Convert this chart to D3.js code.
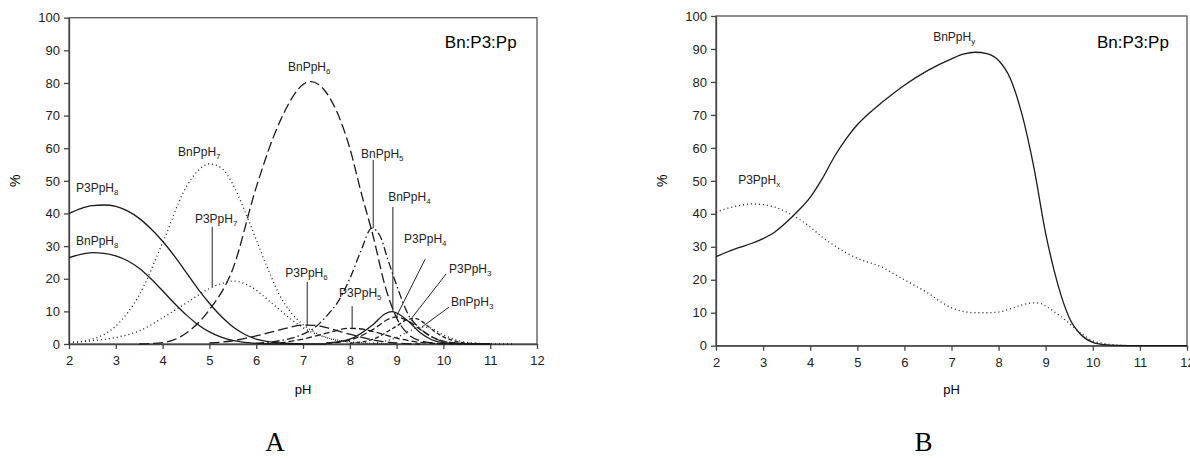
<!DOCTYPE html>
<html>
<head>
<meta charset="utf-8">
<script src="https://cdn.jsdelivr.net/npm/d3@7"></script>
<style>
  body { margin: 0; background: #fff; }
  svg { font-family: "Liberation Sans", Arial, sans-serif; }
  .axis text { font-size: 13px; fill: #222; }
  .axis path, .axis line { stroke: #444; stroke-width: 1.3; }
  .species { fill: none; stroke: #1a1a1a; stroke-width: 1.3; }
  .lbl { font-size: 12px; fill: #222; }
  .leader { stroke: #222; stroke-width: 1; }
</style>
</head>
<body>
<div id="chart"></div>
<script>
// ---- data: [pH, %] ----
const xTicks = [2, 3, 4, 5, 6, 7, 8, 9, 10, 11, 12];
const yTicks = [0, 10, 20, 30, 40, 50, 60, 70, 80, 90, 100];

const p3pph8 = [[2,40],[2.25,41.5],[2.5,42.4],[2.75,42.6],[3,42.2],[3.25,40.8],[3.5,38.5],[3.75,35.3],[4,31.5],[4.25,27],[4.5,22],[4.75,17],[5,12.5],[5.25,8.5],[5.5,5.3],[5.75,3],[6,1.5],[6.25,0.7],[6.5,0.3],[7,0.05],[7.5,0]];
const bnpph8 = [[2,26.5],[2.25,27.5],[2.5,28],[2.75,27.8],[3,27],[3.25,25.5],[3.5,23.2],[3.75,20],[4,16.3],[4.25,12.5],[4.5,9],[4.75,6],[5,3.7],[5.25,2.1],[5.5,1.1],[5.75,0.5],[6,0.2],[6.5,0.05],[7,0]];
const bnpph7 = [[2,0.4],[2.5,1.5],[3,5.5],[3.5,15],[4,31],[4.5,48],[4.75,53],[5,55.2],[5.25,54],[5.5,49],[5.75,41],[6,32],[6.25,23],[6.5,15],[6.75,9.5],[7,6],[7.5,2],[8,0.5],[8.5,0.1],[9,0]];
const p3pph7 = [[2,0.5],[2.5,1],[3,2],[3.5,4],[4,8],[4.5,12.5],[5,17],[5.25,18.5],[5.5,19.3],[5.75,18.5],[6,16.5],[6.25,13.5],[6.5,10.5],[6.75,7.5],[7,5],[7.5,2],[8,0.7],[8.5,0.2],[9,0]];
const bnpph6 = [[3.5,0],[4,0.4],[4.5,3.3],[5,10.5],[5.5,23],[6,48],[6.5,68],[7,79.5],[7.15,80.5],[7.5,77],[8,60],[8.25,46],[8.5,33],[8.75,18],[9,8],[9.25,3],[9.5,1],[10,0.1],[10.5,0]];
const bnpph5 = [[6,0.2],[6.5,1],[7,3],[7.25,5],[7.5,8.5],[7.75,13],[8,20],[8.25,29],[8.47,35.5],[8.65,33],[8.8,26.5],[9,18],[9.25,9],[9.5,4.8],[9.75,2.2],[10,0.8],[10.5,0.1],[11,0]];
const p3pph6 = [[5,0.3],[5.5,1],[6,2.5],[6.5,4.3],[7,5.8],[7.25,5.7],[7.5,5],[8,3],[8.5,1.2],[9,0.3],[9.5,0]];
const p3pph5 = [[6.5,0.3],[7,1.5],[7.5,3.3],[8,4.8],[8.25,4.6],[8.5,3.8],[9,1.8],[9.5,0.5],[10,0.1],[10.5,0]];
const bnpph4 = [[7.5,0.3],[8,1.5],[8.5,6],[8.75,9.2],[8.9,9.9],[9,9.5],[9.25,7],[9.5,3.5],[9.75,1.3],[10,0.4],[10.5,0.05],[11,0]];
const p3pph4 = [[7.5,0.2],[8,1.2],[8.5,4.5],[8.85,7.8],[9,8.3],[9.25,7],[9.5,4.5],[9.75,2.2],[10,0.9],[10.5,0.1],[11,0]];
const p3pph3 = [[8,0.2],[8.5,1.5],[9,5.5],[9.25,7.6],[9.4,7.8],[9.6,6.3],[9.75,4.5],[10,2.2],[10.25,0.9],[10.5,0.3],[11,0]];
const bnpph3 = [[8.5,0.3],[9,2],[9.25,3.8],[9.5,5.2],[9.7,5],[10,2.8],[10.25,1.3],[10.5,0.5],[11,0.05],[11.5,0]];

const bnpphy = [[2,27],[2.25,28.5],[2.5,29.8],[2.75,31],[3,32.5],[3.25,34.5],[3.5,37.5],[3.75,41],[4,45],[4.25,50.5],[4.5,57],[4.75,62.5],[5,67],[5.25,70.5],[5.5,73.5],[6,79],[6.5,83.5],[7,87],[7.25,88.4],[7.5,89],[7.75,88.6],[8,86.5],[8.25,81],[8.5,70],[8.75,54],[9,34],[9.25,19],[9.5,8.5],[9.75,3.3],[10,1],[10.25,0.3],[10.5,0.1],[11,0],[12,0]];
const p3pphx = [[2,40.5],[2.25,41.7],[2.5,42.5],[2.75,43],[3,42.8],[3.25,42],[3.5,40.5],[3.75,38.5],[4,36],[4.25,33],[4.5,30.5],[4.75,28.3],[5,26.5],[5.25,25.2],[5.5,24],[5.75,22],[6,20],[6.25,18],[6.5,16],[6.75,13.5],[7,11.5],[7.25,10.4],[7.5,10],[7.75,10],[8,10.2],[8.25,11.2],[8.5,12.4],[8.75,13],[8.9,12.8],[9,12],[9.25,9.6],[9.5,6.8],[9.75,3.8],[10,1.5],[10.25,0.6],[10.5,0.2],[11,0],[12,0]];

// label text, subscript, anchor [pH, %], optional leader [[pH,%],[pH,%]]
const labelsA = [
  {t: "P3PpH", s: "8", at: [2.15, 46.6]},
  {t: "BnPpH", s: "8", at: [2.15, 30.3]},
  {t: "BnPpH", s: "7", at: [4.33, 57.6]},
  {t: "P3PpH", s: "7", at: [4.69, 37.1], lead: [[5.06, 35.9], [5.06, 17.5]]},
  {t: "BnPpH", s: "6", at: [6.68, 83.7]},
  {t: "BnPpH", s: "5", at: [8.24, 57], lead: [[8.5, 56.4], [8.5, 35.5]]},
  {t: "BnPpH", s: "4", at: [8.82, 43.8], lead: [[8.92, 42], [8.92, 9.8]]},
  {t: "P3PpH", s: "4", at: [9.16, 31], lead: [[9.61, 26], [8.99, 8.3]]},
  {t: "P3PpH", s: "3", at: [10.12, 21.8], lead: [[10.06, 21.5], [9.31, 7.7]]},
  {t: "BnPpH", s: "3", at: [10.16, 11.6], lead: [[10.12, 11.3], [9.54, 5.2]]},
  {t: "P3PpH", s: "6", at: [6.62, 20.5], lead: [[7.09, 19], [7.09, 5.5]]},
  {t: "P3PpH", s: "5", at: [7.77, 14.4], lead: [[8.05, 11.6], [8.05, 4.9]]}
];
const labelsB = [
  {t: "P3PpH", s: "x", at: [2.47, 49]},
  {t: "BnPpH", s: "y", at: [6.61, 92.4]}
];

const SOLID = null, DOT = "1,3", LONG = "10,4", DASH = "6,3", DASHDOT = "8,3,1.5,3", SHORT = "4,2.5";

class SpeciationPlot {
  constructor(_config, _series, _labels) {
    this.config = {
      svg: _config.svg,
      left: _config.left,
      right: _config.right,
      top: _config.top,
      bottom: _config.bottom,
      title: _config.title,
      titleAt: _config.titleAt,
      panel: _config.panel
    };
    this.series = _series;
    this.labels = _labels;
    this.initVis();
  }

  initVis() {
    let vis = this;
    const c = vis.config;

    vis.xScale = d3.scaleLinear().domain([2, 12]).range([c.left, c.right]);
    vis.yScale = d3.scaleLinear().domain([0, 100]).range([c.bottom, c.top]);

    vis.g = c.svg.append("g");

    // frame
    vis.g.append("rect")
      .attr("x", c.left).attr("y", c.top)
      .attr("width", c.right - c.left).attr("height", c.bottom - c.top)
      .attr("fill", "none").attr("stroke", "#555").attr("stroke-width", 1.3);

    vis.g.append("g")
      .attr("class", "axis")
      .attr("transform", `translate(0,${c.bottom})`)
      .call(d3.axisBottom(vis.xScale).tickValues(xTicks).tickSize(5).tickPadding(7).tickSizeOuter(0));

    vis.g.append("g")
      .attr("class", "axis")
      .attr("transform", `translate(${c.left},0)`)
      .call(d3.axisLeft(vis.yScale).tickValues(yTicks).tickSize(5).tickPadding(4).tickSizeOuter(0));

    const midX = (c.left + c.right) / 2;
    vis.g.append("text")
      .attr("x", midX).attr("y", 394)
      .attr("text-anchor", "middle").attr("font-size", 13).text("pH");

    vis.g.append("text")
      .attr("transform", `translate(${c.left - 49},${(c.top + c.bottom) / 2}) rotate(-90)`)
      .attr("text-anchor", "middle").attr("font-size", 14).text("%");

    vis.g.append("text")
      .attr("x", vis.xScale(c.titleAt[0])).attr("y", vis.yScale(c.titleAt[1]))
      .attr("font-size", 17).text(c.title);

    vis.g.append("text")
      .attr("x", midX - 28).attr("y", 451)
      .attr("text-anchor", "middle")
      .attr("font-family", "'Liberation Serif', 'Times New Roman', serif")
      .attr("font-size", 27).text(c.panel);

    vis.renderVis();
  }

  renderVis() {
    let vis = this;

    const line = d3.line()
      .x(d => vis.xScale(d[0]))
      .y(d => vis.yScale(d[1]))
      .curve(d3.curveMonotoneX);

    vis.g.selectAll(".species")
      .data(vis.series)
      .join("path")
      .attr("class", "species")
      .attr("d", d => line(d.values))
      .attr("stroke-dasharray", d => d.dash)
      .attr("stroke", d => d.dash === DOT ? "#333" : "#1a1a1a");

    const leads = vis.labels.filter(d => d.lead);
    vis.g.selectAll(".leader")
      .data(leads)
      .join("line")
      .attr("class", "leader")
      .attr("x1", d => vis.xScale(d.lead[0][0]))
      .attr("y1", d => vis.yScale(d.lead[0][1]))
      .attr("x2", d => vis.xScale(d.lead[1][0]))
      .attr("y2", d => vis.yScale(d.lead[1][1]));

    const txt = vis.g.selectAll(".lbl")
      .data(vis.labels)
      .join("text")
      .attr("class", "lbl")
      .attr("x", d => vis.xScale(d.at[0]))
      .attr("y", d => vis.yScale(d.at[1]))
      .text(d => d.t);
    txt.append("tspan")
      .attr("dy", 3)
      .attr("font-size", 8)
      .text(d => d.s);
  }
}

const svg = d3.select("#chart").append("svg")
  .attr("width", 1190).attr("height", 459);

new SpeciationPlot(
  {svg: svg, left: 69, right: 537, top: 17.7, bottom: 344, title: "Bn:P3:Pp", titleAt: [10.03, 90.7], panel: "A"},
  [
    {values: p3pph8, dash: SOLID},
    {values: bnpph8, dash: SOLID},
    {values: bnpph7, dash: DOT},
    {values: p3pph7, dash: DOT},
    {values: bnpph6, dash: LONG},
    {values: bnpph5, dash: DASHDOT},
    {values: p3pph6, dash: LONG},
    {values: p3pph5, dash: DASH},
    {values: bnpph4, dash: SOLID},
    {values: p3pph4, dash: DASH},
    {values: p3pph3, dash: SHORT},
    {values: bnpph3, dash: DOT}
  ],
  labelsA
);

new SpeciationPlot(
  {svg: svg, left: 716, right: 1187, top: 16, bottom: 345.7, title: "Bn:P3:Pp", titleAt: [10.09, 90.3], panel: "B"},
  [
    {values: bnpphy, dash: SOLID},
    {values: p3pphx, dash: DOT}
  ],
  labelsB
);
</script>
</body>
</html>
